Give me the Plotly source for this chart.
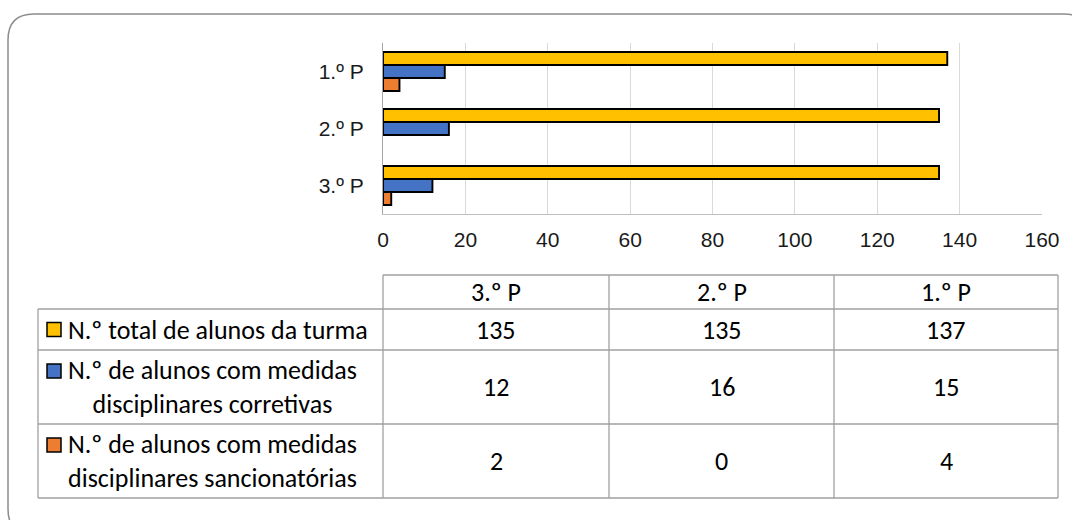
import plotly.graph_objects as go

# ---- data ----
periods = ["3.º P", "2.º P", "1.º P"]
total_alunos = [135, 135, 137]
corretivas = [12, 16, 15]
sancionatorias = [2, 0, 4]
series_names = [
    "N.º total de alunos da turma",
    "N.º de alunos com medidas<br>disciplinares corretivas",
    "N.º de alunos com medidas<br>disciplinares sancionatórias",
]
x_ticks = [0, 20, 40, 60, 80, 100, 120, 140, 160]

# ---- style ----
W, H = 1072, 520
colors = ["#FFC000", "#4472C4", "#ED7D31"]
series_values = [total_alunos, corretivas, sancionatorias]
chart_font = "Liberation Sans Narrow, Arial Narrow, Liberation Sans, Arial"
table_font = "Carlito, Calibri, Lato, sans-serif"
TFS = 26


def px(x):
    return x / W


def py(y):
    return 1 - y / H


fig = go.Figure()
# plotly puts the first trace at the bottom of each group -> add in reverse
for name, vals, col in reversed(list(zip(series_names, series_values, colors))):
    fig.add_trace(go.Bar(
        y=periods, x=vals, orientation="h", name=name.replace("<br>", " "),
        marker=dict(color=col, line=dict(color="#000000",
                                         width=[1.9 if v > 0 else 0 for v in vals])),
        showlegend=False, hoverinfo="x+y",
    ))

fig.update_layout(
    width=W, height=H,
    margin=dict(l=0, r=0, t=0, b=0, autoexpand=False),
    showlegend=False,
    paper_bgcolor="white", plot_bgcolor="white",
    barmode="group", bargap=0.316, bargroupgap=0,
    xaxis=dict(
        domain=[px(383), px(1042)], range=[0, 160], tickvals=x_ticks,
        automargin=False,
        showgrid=True, gridcolor="#d9d9d9", gridwidth=1,
        showline=True, linecolor="#bfbfbf", linewidth=1.2,
        zeroline=False, ticks="", ticklabelstandoff=7,
        tickfont=dict(family=chart_font, size=21, color="#1a1a1a"),
        fixedrange=True,
    ),
    yaxis=dict(
        domain=[py(214), py(43)], type="category",
        categoryorder="array", categoryarray=periods,
        automargin=False,
        showgrid=False, showline=True, linecolor="#a6a6a6", linewidth=1.2,
        zeroline=False, ticks="", ticklabelstandoff=14,
        tickfont=dict(family=chart_font, size=21, color="#1a1a1a"),
        fixedrange=True,
    ),
)

shapes = []
annotations = []

# outer rounded frame
fx0, fy0, fx1, fy1, r = 8, 14, 1090, 535, 26
path = (f"M {px(fx0)},{py(fy0 + r)} "
        f"Q {px(fx0)},{py(fy0)} {px(fx0 + r)},{py(fy0)} "
        f"L {px(fx1 - r)},{py(fy0)} "
        f"Q {px(fx1)},{py(fy0)} {px(fx1)},{py(fy0 + r)} "
        f"L {px(fx1)},{py(fy1 - r)} "
        f"Q {px(fx1)},{py(fy1)} {px(fx1 - r)},{py(fy1)} "
        f"L {px(fx0 + r)},{py(fy1)} "
        f"Q {px(fx0)},{py(fy1)} {px(fx0)},{py(fy1 - r)} Z")
shapes.append(dict(type="path", xref="paper", yref="paper", path=path,
                   line=dict(color="#8c8c8c", width=1.5), layer="below"))

# data table
col_edges = [38, 383, 609, 834, 1058]
row_edges = [275, 309, 350, 424, 498]
grid = dict(color="#a0a0a0", width=1.3)


def hline(x0, x1, y):
    shapes.append(dict(type="line", xref="paper", yref="paper",
                       x0=px(x0), x1=px(x1), y0=py(y), y1=py(y), line=grid))


def vline(x, y0, y1):
    shapes.append(dict(type="line", xref="paper", yref="paper",
                       x0=px(x), x1=px(x), y0=py(y0), y1=py(y1), line=grid))


hline(col_edges[1], col_edges[-1], row_edges[0])
for y in row_edges[1:]:
    hline(col_edges[0], col_edges[-1], y)
vline(col_edges[0], row_edges[1], row_edges[-1])
for x in col_edges[1:]:
    vline(x, row_edges[0], row_edges[-1])

tfont = dict(family=table_font, size=TFS, color="#000")

# header labels (column order follows the periods list)
for j, p in enumerate(periods):
    cx = (col_edges[j + 1] + col_edges[j + 2]) / 2
    cy = (row_edges[0] + row_edges[1]) / 2
    annotations.append(dict(x=px(cx), y=py(cy), xref="paper", yref="paper",
                            xanchor="center", yanchor="middle",
                            text=p, showarrow=False, font=tfont))

# series rows
for i, (name, vals, col) in enumerate(zip(series_names, series_values, colors)):
    top, bot = row_edges[i + 1], row_edges[i + 2]
    cy = (top + bot) / 2
    nlines = name.count("<br>") + 1
    first_line_cy = cy - (nlines - 1) * 16
    # legend key
    shapes.append(dict(type="rect", xref="paper", yref="paper",
                       x0=px(47), x1=px(61), y0=py(first_line_cy - 7), y1=py(first_line_cy + 7),
                       fillcolor=col, line=dict(color="#000", width=1.5)))
    annotations.append(dict(x=px(66), y=py(cy), xref="paper", yref="paper",
                            xanchor="left", yanchor="middle", align="center",
                            text=name, showarrow=False, font=tfont))
    for j, v in enumerate(vals):
        cx = (col_edges[j + 1] + col_edges[j + 2]) / 2
        annotations.append(dict(x=px(cx), y=py(cy), xref="paper", yref="paper",
                                xanchor="center", yanchor="middle",
                                text=str(v), showarrow=False, font=tfont))

fig.update_layout(shapes=shapes, annotations=annotations)
fig.write_html(
    "out.html",
    config={"displayModeBar": False},
    post_script="document.body.style.margin='0';document.body.style.overflow='hidden';",
)
